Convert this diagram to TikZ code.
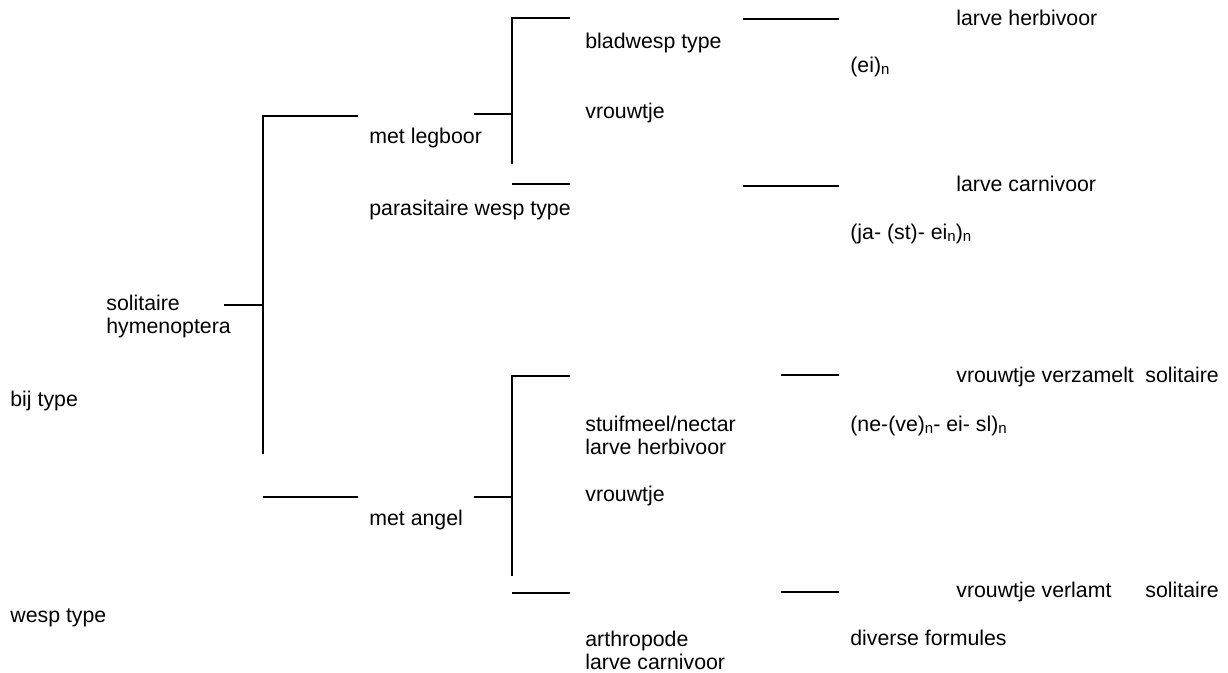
\documentclass[tikz,border=0pt]{standalone}
\usepackage{fontspec}
\setmainfont{Liberation Sans}
\newcommand{\subn}{\raisebox{-0.6pt}{\fontsize{7.5}{7.5}\selectfont n}}
\begin{document}
\begin{tikzpicture}[x=0.5pt,y=-0.5pt,
  lbl/.style={anchor=base west, inner sep=0pt, font=\fontsize{10.65}{11.5}\selectfont, align=left},
  conn/.style={line width=1pt}]
\useasboundingbox (0,0) rectangle (1228,673);
% labels (multi-line labels are placed by their last baseline)
\node[lbl] (soli) at (106,334) {solitaire\\hymenoptera};
\node[lbl] (bij) at (10,407) {bij type};
\node[lbl] (wesp) at (10,623) {wesp type};
\node[lbl] (legb) at (369,144) {met legboor};
\node[lbl] (para) at (369,216) {parasitaire wesp type};
\node[lbl] (angel) at (369,526) {met angel};
\node[lbl] (blad) at (585,49) {bladwesp type};
\node[lbl] (vr1) at (585,119) {vrouwtje};
\node[lbl] (stuif) at (585,455) {stuifmeel/nectar\\larve herbivoor};
\node[lbl] (vr2) at (585,502) {vrouwtje};
\node[lbl] (arth) at (585,670) {arthropode\\larve carnivoor};
\node[lbl] (f1) at (850,73) {(ei)\subn};
\node[lbl] (f2) at (850,240) {(ja- (st)- ei\subn)\subn};
\node[lbl] (f3) at (850,432) {(ne-(ve)\subn- ei- sl)\subn};
\node[lbl] (f4) at (850,646) {diverse formules};
\node[lbl] (r1) at (956,26) {larve herbivoor};
\node[lbl] (r2) at (956,192) {larve carnivoor};
\node[lbl] (r3) at (956,383) {\makebox[94.5pt][l]{vrouwtje verzamelt}solitaire};
\node[lbl] (r4) at (956,598) {\makebox[94.5pt][l]{vrouwtje verlamt}solitaire};
% coordinates
\coordinate (sS) at (224,305);
\coordinate (sV) at (263,305);
\coordinate (sT) at (263,116);
\coordinate (sB) at (263,454);
\coordinate (sTe) at (358,116);
\coordinate (aL) at (263,497);
\coordinate (aR) at (358,497);
\coordinate (lS) at (474,114);
\coordinate (lV) at (512,114);
\coordinate (lT) at (512,18);
\coordinate (lTe) at (570,18);
\coordinate (lB) at (512,164);
\coordinate (pL) at (512,184);
\coordinate (pR) at (570,184);
\coordinate (gS) at (474,497);
\coordinate (gV) at (512,497);
\coordinate (gT) at (512,376);
\coordinate (gTe) at (570,376);
\coordinate (gB) at (512,576);
\coordinate (wL) at (512,593);
\coordinate (wR) at (570,593);
\coordinate (h1L) at (743,19);
\coordinate (h1R) at (839,19);
\coordinate (h2L) at (743,186);
\coordinate (h2R) at (839,186);
\coordinate (h3L) at (781,375);
\coordinate (h3R) at (839,375);
\coordinate (h4L) at (781,592);
\coordinate (h4R) at (839,592);
% connectors
\draw[conn] (sS) -- (sV);
\draw[conn] (sTe) -- (sT) -- (sB);
\draw[conn] (aL) -- (aR);
\draw[conn] (lS) -- (lV);
\draw[conn] (lTe) -- (lT) -- (lB);
\draw[conn] (pL) -- (pR);
\draw[conn] (gS) -- (gV);
\draw[conn] (gTe) -- (gT) -- (gB);
\draw[conn] (wL) -- (wR);
\draw[conn] (h1L) -- (h1R);
\draw[conn] (h2L) -- (h2R);
\draw[conn] (h3L) -- (h3R);
\draw[conn] (h4L) -- (h4R);
\end{tikzpicture}
\end{document}
